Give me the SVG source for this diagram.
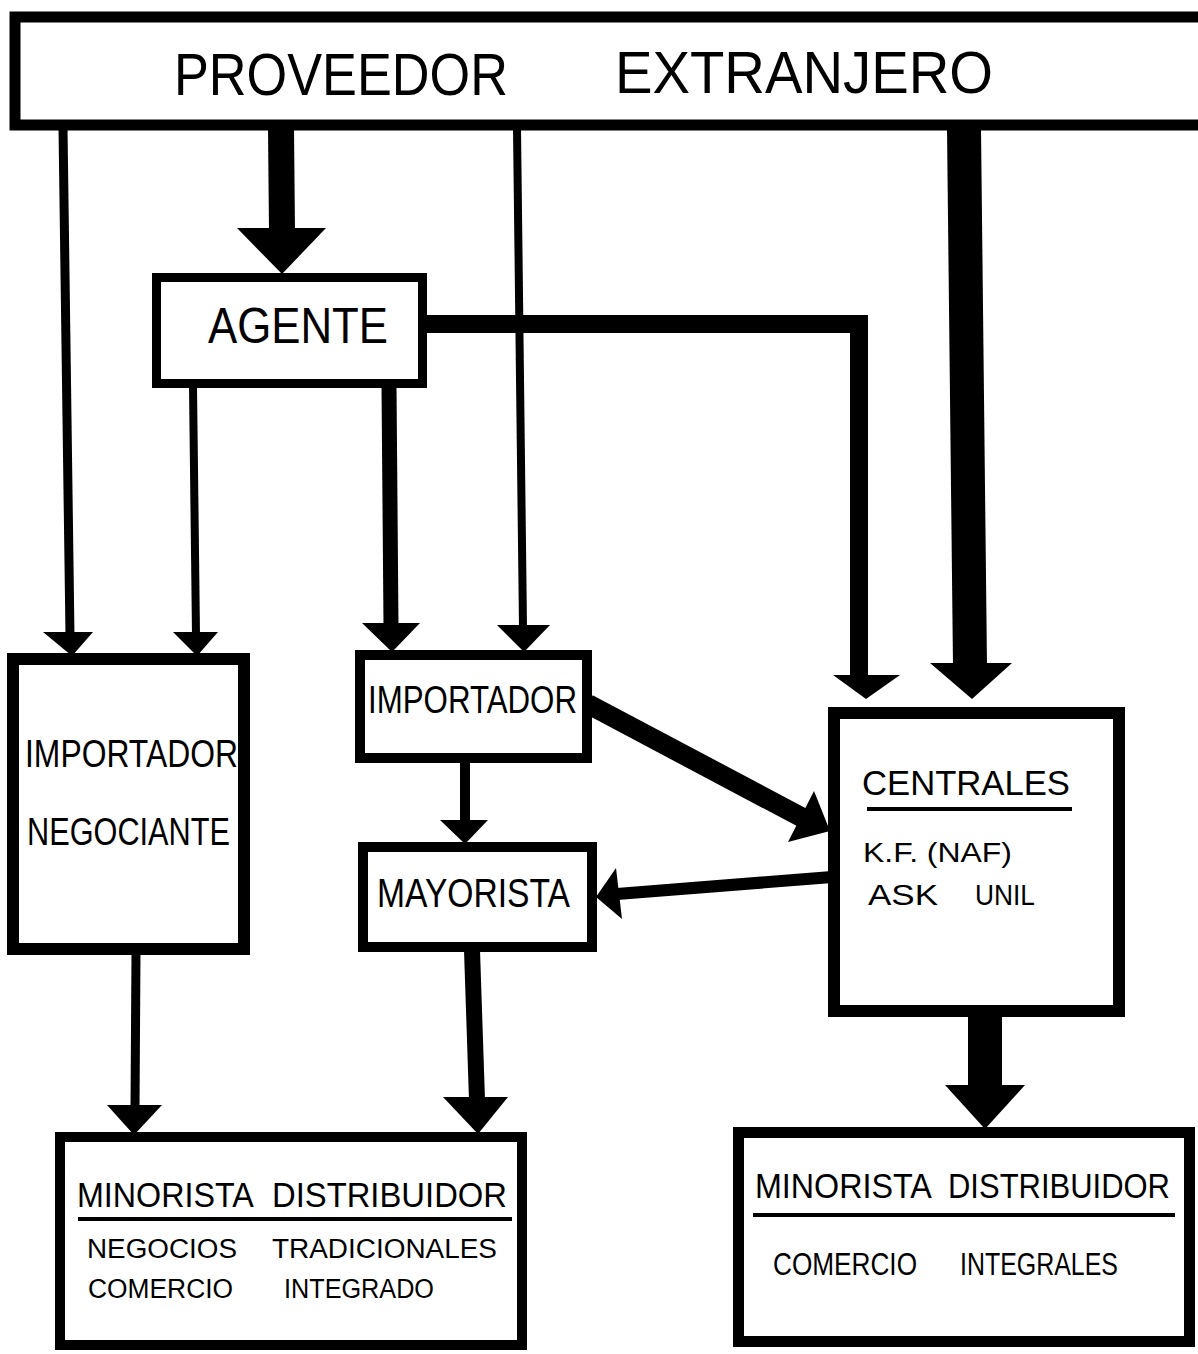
<svg xmlns="http://www.w3.org/2000/svg" width="1198" height="1354" viewBox="0 0 1198 1354">
  <style>
    .box { fill: #fff; stroke: #000; }
    .lbl { font-family: "Liberation Sans", Arial, sans-serif; fill: #000; }
    .wire { stroke: #000; fill: none; stroke-linecap: butt; }
    .head { fill: #000; stroke: none; }
    .rule { stroke: #000; stroke-width: 4; }
  </style>
  <rect x="0" y="0" width="1198" height="1354" fill="#fff"/>

  <!-- flow connectors -->
  <g id="connectors">
    <!-- proveedor -> importador negociante -->
    <line class="wire" x1="63" y1="128" x2="70" y2="636" stroke-width="9"/>
    <polygon class="head" points="43,632 93,632 72,656"/>
    <!-- proveedor -> agente -->
    <line class="wire" x1="281" y1="128" x2="282" y2="232" stroke-width="26"/>
    <polygon class="head" points="237,228 326,228 282,274"/>
    <!-- proveedor -> importador -->
    <line class="wire" x1="517" y1="128" x2="523" y2="628" stroke-width="8"/>
    <polygon class="head" points="497,625 550,625 524,652"/>
    <!-- proveedor -> centrales -->
    <line class="wire" x1="964" y1="128" x2="970" y2="666" stroke-width="34"/>
    <polygon class="head" points="930,663 1012,663 972,699"/>
    <!-- agente -> centrales -->
    <polyline class="wire" points="425,324 859,324 859,678" stroke-width="18" stroke-linejoin="miter"/>
    <polygon class="head" points="833,675 900,675 866,699"/>
    <!-- agente -> importador negociante -->
    <line class="wire" x1="193" y1="386" x2="196" y2="634" stroke-width="8"/>
    <polygon class="head" points="173,632 218,632 197,656"/>
    <!-- agente -> importador -->
    <line class="wire" x1="389" y1="386" x2="391" y2="626" stroke-width="15"/>
    <polygon class="head" points="362,623 420,623 392,652"/>
    <!-- importador -> mayorista -->
    <line class="wire" x1="465" y1="762" x2="465" y2="823" stroke-width="10"/>
    <polygon class="head" points="440,820 488,820 465,844"/>
    <!-- importador -> centrales -->
    <line class="wire" x1="588" y1="704" x2="803" y2="818" stroke-width="20"/>
    <polygon class="head" points="788,842 814,791 830,831"/>
    <!-- centrales -> mayorista -->
    <line class="wire" x1="832" y1="877" x2="617" y2="894" stroke-width="12"/>
    <polygon class="head" points="616,868 622,919 596,897"/>
    <!-- importador negociante -> minorista -->
    <line class="wire" x1="136" y1="952" x2="135" y2="1108" stroke-width="9"/>
    <polygon class="head" points="107,1105 162,1105 134,1135"/>
    <!-- mayorista -> minorista -->
    <line class="wire" x1="472" y1="950" x2="477" y2="1100" stroke-width="16"/>
    <polygon class="head" points="443,1097 508,1097 478,1134"/>
    <!-- centrales -> minorista integral -->
    <line class="wire" x1="985" y1="1012" x2="985" y2="1088" stroke-width="34"/>
    <polygon class="head" points="945,1085 1025,1085 985,1129"/>
  </g>

  <g id="proveedor">
    <rect class="box" x="15" y="17" width="1195" height="108" stroke-width="11"/>
    <text class="lbl" font-size="60">
      <tspan x="174" y="95" textLength="334" lengthAdjust="spacingAndGlyphs">PROVEEDOR</tspan>
      <tspan x="615" y="93" textLength="378" lengthAdjust="spacingAndGlyphs">EXTRANJERO</tspan>
    </text>
  </g>

  <g id="agente">
    <rect class="box" x="156.5" y="277.5" width="266" height="106" stroke-width="9"/>
    <text class="lbl" x="208" y="343" font-size="50" textLength="180" lengthAdjust="spacingAndGlyphs">AGENTE</text>
  </g>

  <g id="importador-negociante">
    <rect class="box" x="13" y="659" width="231" height="290" stroke-width="12"/>
    <text class="lbl" x="25" y="767" font-size="38" textLength="213" lengthAdjust="spacingAndGlyphs">IMPORTADOR</text>
    <text class="lbl" x="27" y="845" font-size="38" textLength="203" lengthAdjust="spacingAndGlyphs">NEGOCIANTE</text>
  </g>

  <g id="importador">
    <rect class="box" x="360" y="655" width="227" height="103" stroke-width="10"/>
    <text class="lbl" x="368" y="713" font-size="39" textLength="209" lengthAdjust="spacingAndGlyphs">IMPORTADOR</text>
  </g>

  <g id="mayorista">
    <rect class="box" x="363" y="847" width="229" height="100" stroke-width="10"/>
    <text class="lbl" x="377" y="907" font-size="40" textLength="193" lengthAdjust="spacingAndGlyphs">MAYORISTA</text>
  </g>

  <g id="centrales">
    <rect class="box" x="834" y="713" width="285" height="298" stroke-width="12"/>
    <text class="lbl" x="862" y="795" font-size="35" textLength="208" lengthAdjust="spacingAndGlyphs">CENTRALES</text>
    <line class="rule" x1="867" y1="809" x2="1072" y2="809"/>
    <text class="lbl" x="863" y="862" font-size="27" textLength="149" lengthAdjust="spacingAndGlyphs">K.F. (NAF)</text>
    <text class="lbl" font-size="30">
      <tspan x="868" y="905" textLength="70" lengthAdjust="spacingAndGlyphs">ASK</tspan>
      <tspan x="975" y="905" textLength="60" lengthAdjust="spacingAndGlyphs">UNIL</tspan>
    </text>
  </g>

  <g id="minorista-tradicional">
    <rect class="box" x="60" y="1137" width="462" height="208" stroke-width="10"/>
    <text class="lbl" font-size="35">
      <tspan x="77" y="1207" textLength="175" lengthAdjust="spacingAndGlyphs">MINORISTA</tspan>
      <tspan x="272" y="1207" textLength="235" lengthAdjust="spacingAndGlyphs">DISTRIBUIDOR</tspan>
    </text>
    <line class="rule" x1="78" y1="1219" x2="512" y2="1219"/>
    <text class="lbl" font-size="27">
      <tspan x="87" y="1258" textLength="150" lengthAdjust="spacingAndGlyphs">NEGOCIOS</tspan>
      <tspan x="272" y="1258" textLength="225" lengthAdjust="spacingAndGlyphs">TRADICIONALES</tspan>
    </text>
    <text class="lbl" font-size="27">
      <tspan x="88" y="1298" textLength="145" lengthAdjust="spacingAndGlyphs">COMERCIO</tspan>
      <tspan x="284" y="1298" textLength="150" lengthAdjust="spacingAndGlyphs">INTEGRADO</tspan>
    </text>
  </g>

  <g id="minorista-integral">
    <rect class="box" x="738.5" y="1132.5" width="451" height="209" stroke-width="11"/>
    <text class="lbl" font-size="35">
      <tspan x="755" y="1198" textLength="175" lengthAdjust="spacingAndGlyphs">MINORISTA</tspan>
      <tspan x="948" y="1198" textLength="222" lengthAdjust="spacingAndGlyphs">DISTRIBUIDOR</tspan>
    </text>
    <line class="rule" x1="753" y1="1215" x2="1175" y2="1215"/>
    <text class="lbl" font-size="31">
      <tspan x="773" y="1275" textLength="144" lengthAdjust="spacingAndGlyphs">COMERCIO</tspan>
      <tspan x="960" y="1275" textLength="158" lengthAdjust="spacingAndGlyphs">INTEGRALES</tspan>
    </text>
  </g>
</svg>
